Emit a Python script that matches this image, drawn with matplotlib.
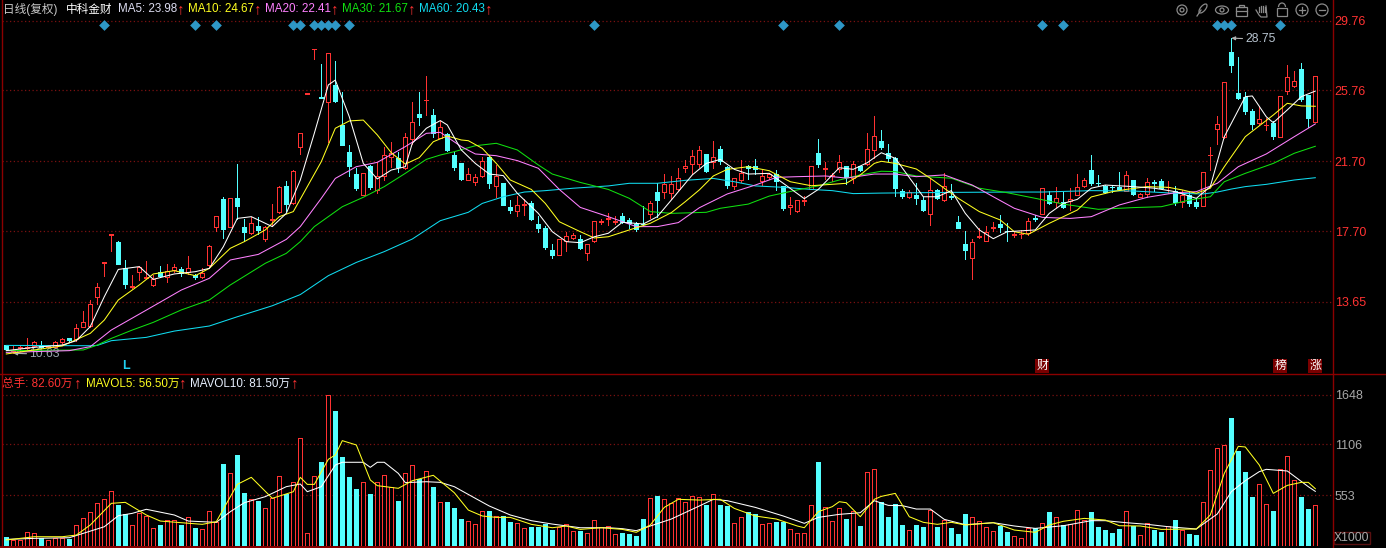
import matplotlib
matplotlib.use('Agg')
import matplotlib.pyplot as plt
from matplotlib.patches import Circle, Ellipse, Rectangle, Arc

plt.rcParams['font.family'] = ['Liberation Sans', 'Noto Sans CJK SC', 'DejaVu Sans']

# 日线数据
opens = [11.16,10.84,11.01,11.03,11.13,11.16,11.05,11.09,11.34,11.56,
11.51,12.24,12.27,13.95,15.90,17.50,17.08,15.59,14.50,15.38,
15.04,14.64,15.34,15.10,15.49,15.51,15.34,15.21,15.06,15.76,
17.96,19.54,17.96,19.60,17.92,17.58,18.00,17.27,18.34,18.82,
20.29,19.29,22.50,25.57,28.13,25.38,25.11,26.05,23.78,22.21,
20.97,19.79,21.43,20.06,20.88,21.93,21.91,21.30,22.96,24.39,
25.19,24.33,23.05,23.24,22.04,21.60,20.65,20.53,20.88,21.97,
20.30,20.44,19.08,18.87,19.22,19.31,18.11,17.88,16.62,16.35,
17.14,17.29,17.25,16.47,17.12,18.24,18.42,18.24,18.57,18.32,
18.13,18.13,18.68,19.94,19.96,19.90,20.09,21.30,21.56,21.56,
22.12,21.68,22.40,21.37,20.30,20.63,21.41,21.41,20.57,20.82,
20.97,20.27,19.06,18.84,19.45,20.13,22.16,21.26,20.88,21.24,
21.43,20.76,21.43,21.56,22.37,22.84,22.17,21.89,20.00,19.67,
19.77,19.48,18.66,20.06,19.48,19.69,18.24,16.97,16.14,17.37,
17.16,17.90,18.11,17.73,17.46,17.52,17.61,18.43,18.70,19.75,
19.35,19.37,19.41,19.79,20.30,21.20,20.48,20.30,20.25,20.25,
20.02,20.63,19.67,19.81,20.50,20.55,20.21,20.00,19.37,19.77,
19.37,19.16,22.04,23.57,23.07,27.96,25.59,25.40,24.56,23.87,
23.76,23.91,23.11,25.74,26.01,26.98,25.48,23.97]
closes = [10.93,10.92,11.05,11.09,11.34,11.09,11.13,11.34,11.51,11.47,
12.14,12.48,13.51,14.48,15.92,17.52,15.84,14.68,14.54,15.63,
15.07,14.94,15.11,15.42,15.67,15.29,15.57,15.09,15.30,16.87,
18.55,17.84,19.58,19.16,17.67,18.15,17.77,17.96,18.42,20.25,
19.25,21.16,23.30,25.59,28.15,25.34,27.88,25.15,22.65,21.45,
20.15,21.01,20.25,20.88,22.08,22.19,21.39,23.11,23.97,24.26,
25.23,23.34,23.68,22.35,21.39,20.67,20.95,20.78,21.70,20.48,
20.88,19.22,18.91,19.18,19.25,18.38,17.88,16.81,16.33,17.23,
17.40,17.48,16.74,16.97,18.26,18.28,18.46,18.28,18.23,18.19,
17.84,18.09,19.29,19.50,20.40,20.40,20.72,21.41,21.98,22.33,
21.14,21.93,21.72,20.34,20.72,21.01,21.30,21.26,20.84,20.97,
20.57,19.04,19.18,19.46,19.48,21.41,21.56,21.30,20.92,21.64,
20.78,21.53,21.20,22.38,23.13,22.52,21.89,20.19,19.73,19.92,
19.60,18.91,20.04,19.58,20.29,19.66,17.90,16.64,17.06,17.40,
17.63,17.94,17.94,17.69,17.54,17.56,18.28,18.40,20.15,19.31,
19.62,19.08,19.56,20.21,20.63,20.44,20.44,19.96,20.21,20.13,
20.90,19.83,19.83,20.50,20.46,20.19,20.25,19.37,19.75,19.33,
19.16,21.07,22.08,23.82,26.22,27.23,25.30,24.60,23.83,24.10,
23.80,23.17,25.42,26.51,26.28,25.25,24.18,26.56]
highs = [11.18,11.13,11.17,11.56,11.39,11.41,11.18,11.39,11.56,11.56,
12.38,13.11,13.74,14.71,15.92,17.52,17.14,16.03,15.19,15.72,
15.97,15.17,15.70,15.80,15.82,15.67,16.26,15.25,15.57,16.89,
18.57,19.68,19.60,21.54,18.38,18.49,18.49,18.00,19.25,20.29,
20.55,21.20,23.30,25.59,28.15,27.27,27.88,27.44,25.69,22.63,
21.33,21.05,21.49,21.68,22.54,22.79,22.23,23.30,25.08,25.65,
26.56,24.67,24.01,23.30,22.23,21.60,21.30,20.97,21.93,22.06,
21.49,20.48,19.48,19.71,19.52,19.45,18.57,18.00,16.97,17.27,
17.65,17.60,17.50,16.97,18.30,18.42,18.72,18.57,18.72,18.43,
18.21,19.12,19.41,20.44,20.95,20.86,21.30,21.77,22.33,22.58,
22.14,22.86,22.58,21.43,20.74,21.77,21.49,21.83,21.20,21.05,
21.18,20.29,19.66,19.48,19.71,21.43,22.96,21.66,21.05,22.04,
21.45,21.72,21.45,23.32,24.29,23.47,22.69,21.93,20.11,20.06,
20.48,19.68,20.72,20.11,21.01,20.40,18.57,17.71,17.23,17.90,
18.00,18.23,18.62,18.19,17.67,17.77,18.43,18.62,20.19,19.98,
20.21,19.96,20.15,20.97,20.72,22.06,20.92,20.36,20.34,21.07,
21.12,20.63,19.87,20.72,20.61,20.69,20.59,20.29,20.06,20.00,
19.58,21.07,22.52,24.29,26.24,28.75,27.67,25.65,24.67,24.87,
24.16,23.99,25.44,27.21,26.87,27.33,25.50,26.56]
lows = [10.90,10.71,10.86,10.90,11.05,11.00,11.00,11.00,11.24,11.43,
11.43,12.20,12.24,13.53,15.13,16.58,15.80,14.45,14.43,14.90,
15.00,14.56,15.06,14.79,15.38,15.13,15.25,14.98,15.02,15.72,
17.73,17.33,17.92,18.42,17.16,17.54,17.54,17.16,18.05,18.72,
18.85,19.25,22.12,25.57,27.56,25.32,22.82,25.11,22.61,20.88,
20.06,19.75,20.13,19.87,20.63,21.39,21.11,21.24,22.69,23.78,
24.35,23.11,23.01,22.29,21.20,20.63,20.63,20.34,20.82,20.17,
19.64,19.20,18.74,18.59,18.62,18.34,17.67,16.70,16.18,16.33,
16.58,17.25,16.68,16.07,17.08,18.11,18.07,18.11,18.15,17.88,
17.69,18.07,18.43,18.49,19.62,19.52,20.06,21.09,20.97,21.39,
21.09,21.30,21.55,20.17,20.09,20.53,20.70,20.95,20.36,20.67,
20.06,18.91,18.68,18.80,19.20,20.09,21.37,20.69,20.57,21.11,
20.42,20.44,21.16,21.51,21.87,22.40,21.70,19.73,19.62,19.62,
19.25,18.84,18.05,19.52,19.43,19.56,17.86,16.10,14.98,17.33,
17.14,17.73,17.65,17.16,17.35,17.33,17.48,18.28,18.66,19.25,
19.10,19.03,18.91,19.75,20.25,20.34,20.34,19.87,19.96,20.06,
19.98,19.79,19.64,19.67,20.02,20.15,19.90,19.18,19.08,19.14,
19.04,19.14,21.20,22.69,23.03,26.83,25.27,24.41,23.57,23.78,
23.49,23.00,23.09,25.57,25.95,25.17,23.66,23.95]
volumes = [95,62,62,146,135,87,62,84,87,73,
226,298,364,462,506,593,444,342,226,357,
324,193,226,284,276,226,313,193,178,378,
262,891,789,990,575,506,487,407,517,757,
568,691,1171,135,760,913,1648,1470,968,749,
618,691,564,691,768,637,487,789,877,728,
811,640,473,477,411,291,266,233,375,378,
320,320,258,244,189,204,204,236,171,200,
240,156,160,135,276,200,211,124,138,127,
106,291,517,542,506,462,517,473,538,528,
444,560,444,433,244,309,364,342,233,244,
258,262,178,135,135,440,913,418,266,407,
291,375,215,800,833,477,313,455,226,167,
226,204,389,204,280,193,127,346,309,266,
200,156,215,149,102,87,189,189,244,367,
309,226,236,386,280,367,204,171,138,182,
375,215,113,244,171,149,215,280,171,127,
116,473,822,1062,1095,1393,1033,804,531,669,
451,378,833,975,713,531,400,440]

# 均线，按读到的位置取点
ma5_idx = [0,4,8,10,12,14,16,19,21,24,27,29,31,33,35,38,40,42,44,46,47,49,51,53,55,57,58,60,62,63,65,67,69,71,73,76,78,80,82,84,86,88,91,93,95,98,100,102,104,106,109,111,114,116,119,121,123,125,127,131,133,135,137,139,141,143,147,149,151,153,155,157,161,164,167,170,172,174,175,177,178,180,181,183,185,187]
ma5 = [10.86,11.05,11.18,11.43,12.24,13.95,15.51,15.67,14.94,15.25,15.38,15.57,16.81,18.43,18.53,17.96,18.72,20.63,23.30,26.07,26.35,24.25,21.58,20.69,21.20,21.39,22.73,23.59,24.03,23.78,22.35,21.58,20.97,20.88,19.87,18.72,17.67,17.10,17.04,17.38,17.58,18.21,18.11,18.53,19.48,20.92,21.58,21.81,21.24,20.97,21.01,20.44,19.56,20.09,21.33,21.24,21.62,22.19,21.87,19.67,19.67,20.02,18.72,17.77,17.27,17.67,17.77,18.72,19.29,19.52,20.16,20.34,20.25,20.16,19.96,19.58,20.25,23.11,23.87,25.40,25.44,24.25,23.91,24.64,25.40,25.72]
ma10_idx = [0,4,8,12,14,16,19,21,24,27,29,32,34,37,39,41,43,45,47,49,51,53,55,57,59,61,63,65,66,68,70,72,75,77,79,82,84,86,89,92,95,97,99,101,103,106,109,112,115,120,122,124,125,127,130,132,136,139,142,144,146,149,153,155,158,160,163,166,168,170,172,174,177,181,183,185,187]
ma10 = [10.67,10.90,11.13,11.85,12.61,13.76,14.62,15.25,15.44,15.15,15.57,16.72,17.10,17.77,18.53,18.82,20.25,21.68,23.59,24.01,24.06,23.21,22.19,21.54,21.91,22.82,23.15,22.92,22.88,22.44,21.58,20.63,20.09,19.29,18.24,17.67,17.31,17.38,17.77,18.15,18.76,19.39,20.06,20.86,21.24,21.39,21.16,20.53,20.30,20.44,20.92,21.58,21.70,21.58,21.26,20.73,19.58,18.82,18.34,17.67,17.52,18.15,18.91,19.66,19.96,20.09,20.25,20.21,20.06,19.87,20.16,21.39,23.11,24.35,25.02,24.87,24.85]
ma20_idx = [0,9,12,15,20,25,29,32,36,40,42,45,47,50,53,57,60,62,65,67,70,73,76,79,82,86,90,93,96,99,103,107,110,113,117,120,124,127,130,134,138,141,144,148,152,155,159,163,167,170,173,176,180,184,187]
ma20 = [10.76,10.86,11.09,12.04,13.18,14.33,15.00,16.05,16.37,17.23,17.96,19.58,20.72,21.39,21.64,22.54,23.30,23.36,22.54,22.12,22.02,21.74,21.30,20.09,19.06,18.53,17.96,17.96,18.19,19.04,19.83,20.34,20.78,20.82,20.86,20.74,20.97,20.97,20.82,20.92,20.34,19.67,19.01,18.49,18.43,18.53,19.20,19.64,19.90,19.96,20.44,21.39,22.12,23.11,23.84]
ma30_idx = [0,11,13,15,18,21,25,29,32,37,40,42,44,46,48,51,54,57,60,62,64,67,70,73,76,78,82,86,89,92,95,100,102,106,109,113,116,119,122,125,127,130,135,139,143,147,151,156,161,165,169,172,174,177,181,184,187]
ma30 = [10.86,10.90,11.18,11.56,12.04,12.48,13.19,13.76,14.62,15.86,16.43,17.10,17.96,18.53,19.10,19.64,20.25,21.01,21.81,22.06,22.25,22.59,22.73,22.35,21.49,20.97,20.49,20.09,19.58,18.82,18.72,18.78,19.01,19.25,19.71,20.06,20.29,20.63,20.92,21.13,21.11,20.86,20.73,20.16,19.90,19.58,19.25,18.95,19.05,19.10,19.48,19.67,20.53,21.01,21.58,22.16,22.56]
ma60_idx = [0,12,13,15,20,24,29,33,38,42,46,50,54,58,62,66,68,71,74,77,81,86,89,93,97,101,104,107,111,115,118,121,125,135,144,148,155,161,167,171,173,175,177,180,184,187]
ma60 = [11.16,11.14,11.16,11.43,11.62,11.98,12.27,12.80,13.43,14.07,15.15,15.91,16.53,17.25,18.30,18.78,19.29,19.67,19.94,20.02,20.16,20.29,20.44,20.44,20.61,20.72,20.53,20.29,20.21,20.09,20.02,19.85,19.88,19.92,19.94,19.94,20.02,20.00,19.87,19.83,19.94,20.11,20.25,20.38,20.63,20.76]
mavol5_idx = [0,4,8,10,12,15,17,20,22,25,28,30,33,35,38,41,42,43,44,46,47,48,50,52,53,56,58,61,64,66,68,70,72,75,78,80,82,85,88,90,92,94,96,99,102,104,107,110,113,114,116,118,119,120,122,124,125,127,129,131,133,135,137,141,144,147,149,151,154,157,159,162,165,170,172,174,176,177,179,181,183,185,186,187]
mavol5 = [62,98,98,116,226,462,473,335,269,251,233,262,669,746,517,589,746,669,669,942,990,1146,1099,717,655,626,709,768,578,389,324,309,309,233,196,215,178,196,178,146,226,418,506,498,506,407,324,291,215,196,371,426,480,469,316,506,538,571,316,255,233,255,226,251,171,146,226,266,298,280,218,215,178,182,335,789,1084,1077,880,571,658,691,691,622]
mavol10_idx = [0,4,9,11,14,16,18,20,24,26,30,32,34,37,40,42,43,45,47,48,51,52,53,54,56,57,60,62,64,67,69,72,75,78,82,86,88,90,92,95,99,101,103,107,111,114,116,119,122,124,126,128,130,132,134,137,141,144,147,151,155,157,160,163,166,170,173,175,177,179,180,183,186,187]
mavol10 = [69,80,87,135,207,327,353,397,335,269,255,371,469,535,644,673,589,644,880,910,910,855,910,910,789,688,698,691,644,517,433,335,273,236,196,196,186,164,215,291,433,506,491,418,324,244,309,342,360,491,440,437,400,400,287,229,251,215,189,218,273,273,251,233,207,182,346,589,709,808,833,815,644,593]

# 坐标刻度和标记
price_ticks = [29.76, 25.76, 21.70, 17.70, 13.65]
vol_ticks = [1648, 1106, 553]
diamond_idx = [14,27,30,41,42,44,45,46,47,49,84,111,119,148,151,173,174,175,182]
diamond_price = 29.52
tag_idx = [148, 182, 187]
tag_text = ['财', '榜', '涨']

RED = '#ff3232'
CYAN = '#54ffff'
GRID = '#7a1010'
EDGE = '#8b0000'
PX = 0.7  # 不到1像素宽，吸附到像素中心才清晰
W, H = 1386, 548

fig = plt.figure(figsize=(W/100, H/100), dpi=100, facecolor='black')
def add_pane(x0, x1, y0, y1):
    return fig.add_axes([x0/W, 1-y1/H, (x1-x0)/W, (y1-y0)/H], facecolor='black')

ax = add_pane(1.5, 1332, 0, 373)
vx = add_pane(1.5, 1332, 373, 545.7)
ov = fig.add_axes([0, 0, 1, 1], facecolor='none')
ov.set_xlim(0, W); ov.set_ylim(H, 0); ov.axis('off')

n = len(closes)
xs = list(range(n))
colors = [RED if closes[i] > opens[i] else CYAN for i in xs]

# K线
wicks = ax.vlines(xs, lows, highs, colors=colors, lw=PX, zorder=2, antialiased=False)
wicks.set_snap(True)
tops = [max(opens[i], closes[i]) for i in xs]
bots = [min(opens[i], closes[i]) for i in xs]
faces = ['black' if c == RED else CYAN for c in colors]
ax.bar(xs, [tops[i]-bots[i] for i in xs], bottom=bots, width=4/7, color=faces, edgecolor=colors,
       linewidth=PX, zorder=3, antialiased=False)

for idx, vals, c in [(ma60_idx, ma60, '#10dcf0'), (ma30_idx, ma30, '#10e010'), (ma20_idx, ma20, '#ff80ff'),
                     (ma10_idx, ma10, '#ffff20'), (ma5_idx, ma5, 'white')]:
    ax.plot(idx, vals, color=c, lw=0.75, zorder=4)
ax.scatter(diamond_idx, [diamond_price]*len(diamond_idx), marker='D', s=30, color='#2e97c6', zorder=5, linewidths=0)

ax.annotate('28.75', xy=(175, 28.75), xytext=(14, -1), textcoords='offset pixels', color='#b8c4d0', fontsize=8.8,
            va='center', zorder=6, arrowprops=dict(arrowstyle='-|>,head_width=0.12,head_length=0.25', color='#b0b0b0', lw=0.8, shrinkA=0, shrinkB=0))
ax.annotate('10.63', xy=(1, 10.71), xytext=(16, -1), textcoords='offset pixels', color='#9aa4ae', fontsize=8.8,
            va='center', zorder=3.5, arrowprops=dict(arrowstyle='-|>,head_width=0.12,head_length=0.25', color='#b0b0b0', lw=0.8, shrinkA=0, shrinkB=0))

ax.set_xlim((1.5-6.3)/7, (1332-6.3)/7)
ax.set_ylim(9.58, 30.934)
ax.set_yticks(price_ticks)
ax.set_yticklabels(['%.2f' % t for t in price_ticks])
ax.yaxis.tick_right()
ax.tick_params(axis='y', length=0, labelcolor=RED, labelsize=9, pad=2)
ax.set_xticks([])
ax.grid(axis='y', color=GRID, lw=0.9, ls=(0, (1, 2)), zorder=0)
ax.set_axisbelow(True)

# 成交量
vx.bar(xs, volumes, width=4/7, color=faces, edgecolor=colors, linewidth=PX, zorder=3, antialiased=False)
vx.plot(mavol10_idx, mavol10, color='white', lw=0.75, zorder=4)
vx.plot(mavol5_idx, mavol5, color='#ffff20', lw=0.75, zorder=5)
vx.set_xlim((1.5-6.3)/7, (1332-6.3)/7)
vx.set_ylim(0, 1884)
vx.set_yticks(vol_ticks)
vx.set_yticklabels([str(t) for t in vol_ticks])
vx.yaxis.tick_right()
vx.tick_params(axis='y', length=0, labelcolor='#a8a8a8', labelsize=9, pad=2)
vx.set_xticks([])
vx.grid(axis='y', color=GRID, lw=0.9, ls=(0, (1, 2)), zorder=0)
vx.set_axisbelow(True)

for a in (ax, vx):
    for s in a.spines.values():
        s.set_visible(False)

# 边框
ov.plot([1.5, 1.5], [0, H], color=EDGE, lw=1)
ov.plot([1332.5, 1332.5], [0, H], color=EDGE, lw=1)
ov.plot([0, W], [373.5, 373.5], color=EDGE, lw=1)
ov.plot([0, 1120], [547, 547], color=EDGE, lw=2)

# 顶部文字
def header(items, y):
    for x, s, c in items:
        if s == '↑':
            ov.text(x, y, s, color=c, fontsize=11, va='center', ha='center')
        else:
            ov.text(x, y, s, color=c, fontsize=8.4, va='center', ha='left')

header([(3, '日线(复权)', '#c8c8c8'), (66, '中科金财', 'white'),
        (118, 'MA5: 23.98', '#dcdcf0'), (181, '↑', RED),
        (188, 'MA10: 24.67', '#ffff20'), (258, '↑', RED),
        (265, 'MA20: 22.41', '#ff80ff'), (335, '↑', RED),
        (342, 'MA30: 21.67', '#10e010'), (412, '↑', RED),
        (419, 'MA60: 20.43', '#10dcf0'), (489, '↑', RED)], 9.5)
header([(2, '总手: 82.60万', RED), (78, '↑', RED),
        (86, 'MAVOL5: 56.50万', '#ffff20'), (183, '↑', RED),
        (190, 'MAVOL10: 81.50万', '#e8f0ff'), (295, '↑', RED)], 383.5)

# 底部标记
ov.text(125.5, 366, 'L', color='#20d0f0', fontsize=9, fontweight='bold', ha='center', va='center')
for i, s in zip(tag_idx, tag_text):
    ov.text(6.3+7*i, 366, s, color='white', fontsize=8.6, ha='center', va='center',
            bbox=dict(boxstyle='square,pad=0.08', fc='#7a0000', ec='none'))

# X1000
ov.add_patch(Rectangle((1333.5, 532), 36, 12, fc='none', ec='#5a1010', lw=1))
ov.text(1351.5, 538, 'X1000', color='#a8a8a8', fontsize=8.8, ha='center', va='center')

# 工具栏图标
ic = '#8a8a8a'
lw = 0.9
ov.add_patch(Circle((1182, 10), 5, fc='none', ec=ic, lw=lw))
ov.add_patch(Circle((1182, 10), 2, fc='none', ec=ic, lw=lw))
ov.plot([1197, 1201], [16, 10], color=ic, lw=lw)
ov.add_patch(Ellipse((1203, 8.5), 5, 11, angle=40, fc='none', ec=ic, lw=lw))
ov.add_patch(Ellipse((1222, 10), 13, 8, fc='none', ec=ic, lw=lw))
ov.add_patch(Circle((1222, 10), 2, fc='none', ec=ic, lw=lw))
ov.add_patch(Rectangle((1236, 7), 11, 9, fc='none', ec=ic, lw=lw))
ov.add_patch(Rectangle((1239, 4.5), 5, 2.5, fc='none', ec=ic, lw=lw))
ov.plot([1236, 1247], [11, 11], color=ic, lw=lw)
for k in range(4):
    ov.plot([1259+2*k, 1259+2*k], [12, 5+abs(k-1.5)], color=ic, lw=lw)
ov.plot([1256, 1259, 1261, 1267, 1266], [10, 15, 17, 17, 6], color=ic, lw=lw)
ov.add_patch(Rectangle((1277, 8), 10, 8, fc='none', ec=ic, lw=lw))
ov.add_patch(Arc((1282, 7), 7, 8, theta1=180, theta2=360, ec=ic, lw=lw))
for cx, isplus in [(1302, True), (1322, False)]:
    ov.add_patch(Circle((cx, 10), 6, fc='none', ec=ic, lw=lw))
    ov.plot([cx-3, cx+3], [10, 10], color=ic, lw=lw)
    if isplus:
        ov.plot([cx, cx], [7, 13], color=ic, lw=lw)

plt.savefig('out.png', dpi=100, facecolor='black')
plt.close()
